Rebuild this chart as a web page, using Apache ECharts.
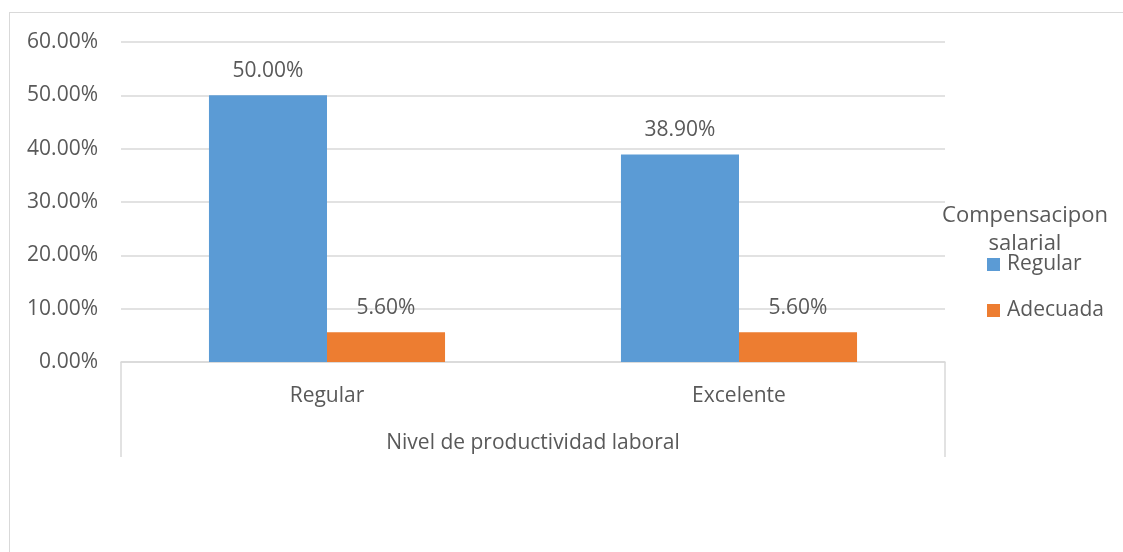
<!DOCTYPE html>
<html>
<head>
<meta charset="utf-8">
<script src="https://cdn.jsdelivr.net/npm/echarts@6/dist/echarts.min.js"></script>
<style>
html,body{margin:0;padding:0;background:#fff;overflow:hidden;}
#frame{position:absolute;left:9px;top:12px;width:1300px;height:700px;border:1.5px solid #d9d9d9;}
#chart{position:absolute;left:0;top:0;width:1123px;height:552px;}
</style>
</head>
<body>
<div id="frame"></div>
<div id="chart"></div>
<script>
const categories = ['Regular', 'Excelente'];
const groupTitle = ['Nivel de productividad laboral'];
const seriesNames = ['Regular', 'Adecuada'];
const regularValues = [50.0, 38.9];
const adecuadaValues = [5.6, 5.6];
const legendTitle = 'Compensacipon\nsalarial';

const txt = '#595959';
const font = 'Open Sans';
const fs = 21;
const chart = echarts.init(document.getElementById('chart'), null, {renderer: 'canvas'});
const lbl = {
  show: true, position: 'top', distance: 14, color: txt, fontFamily: font, fontSize: fs,
  formatter: p => p.value.toFixed(2) + '%'
};
chart.setOption({
  animation: false,
  backgroundColor: 'transparent',
  textStyle: {fontFamily: font, color: txt},
  title: {
    text: legendTitle, left: 1025, top: 202, textAlign: 'center', padding: 0,
    textStyle: {fontFamily: font, fontSize: 22, fontWeight: 'normal', color: txt, lineHeight: 28}
  },
  legend: {
    orient: 'vertical', left: 987, top: 254, itemWidth: 13, itemHeight: 13, itemGap: 25, padding: 0,
    icon: 'rect', data: seriesNames,
    textStyle: {fontFamily: font, fontSize: fs, lineHeight: 20, color: txt, padding: [0, 0, 0, 2]}
  },
  grid: {left: 121, right: 178, top: 42, bottom: 190, containLabel: false},
  xAxis: [
    {
      type: 'category', data: categories, position: 'bottom',
      axisLine: {show: true, lineStyle: {color: '#d9d9d9', width: 1.5}},
      axisTick: {show: false},
      axisLabel: {color: txt, fontFamily: font, fontSize: fs, margin: 24}
    },
    {
      type: 'category', data: groupTitle, position: 'bottom',
      axisLine: {show: false},
      axisTick: {show: true, length: 95, lineStyle: {color: '#d9d9d9', width: 1.5}},
      axisLabel: {color: txt, fontFamily: font, fontSize: fs, margin: 71}
    }
  ],
  yAxis: {
    type: 'value', min: 0, max: 60, interval: 10,
    axisLine: {show: false}, axisTick: {show: false},
    splitLine: {lineStyle: {color: '#d9d9d9', width: 1.5}},
    axisLabel: {color: txt, fontFamily: font, fontSize: fs, margin: 23, formatter: v => v.toFixed(2) + '%'}
  },
  series: [
    {name: seriesNames[0], type: 'bar', xAxisIndex: 0, data: regularValues, barGap: '0%', barCategoryGap: '42.7%',
     itemStyle: {color: '#5B9BD5'}, label: lbl},
    {name: seriesNames[1], type: 'bar', xAxisIndex: 0, data: adecuadaValues, barGap: '0%', barCategoryGap: '42.7%',
     itemStyle: {color: '#ED7D31'}, label: lbl}
  ]
});
</script>
</body>
</html>
